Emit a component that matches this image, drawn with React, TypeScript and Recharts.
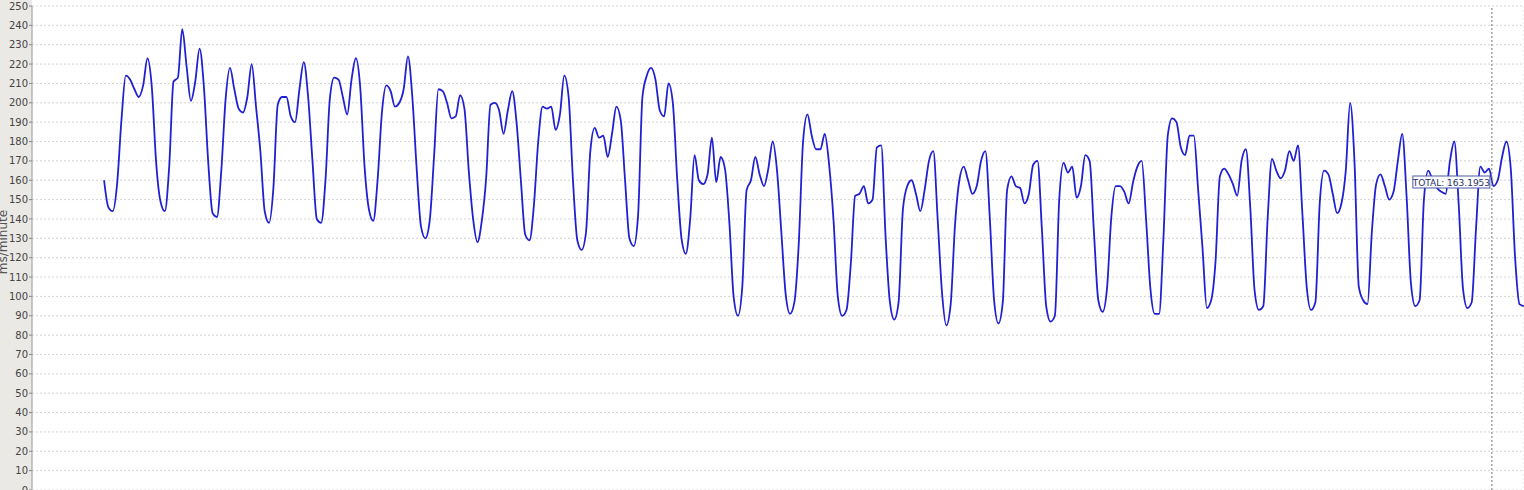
import React from 'react';
import { LineChart, Line, XAxis, YAxis, CartesianGrid, ReferenceLine, Label } from 'recharts';

// one reading every 2 hours, 12 per day, first one at midnight of day 0
const week1 = [
    160, 146, 144, 158, 191, 214, 212, 207, 203, 209, 223, 208,
    169, 149, 144, 167, 211, 213, 238, 219, 201, 211, 228, 208,
    169, 143, 141, 165, 202, 218, 207, 197, 195, 203, 220, 198,
    175, 144, 138, 156, 199, 203, 203, 193, 190, 207, 221, 203,
    170, 140, 138, 160, 202, 213, 212, 203, 194, 212, 223, 208,
    167, 145, 139, 160, 195, 209, 206, 198, 200, 207, 224, 203,
    166, 136, 130, 139, 172, 207, 206, 200, 192, 193, 204, 197,
];
const week2 = [
    165, 140, 128, 139, 161, 199, 200, 196, 184, 196, 206, 190,
    160, 132, 129, 147, 180, 198, 197, 198, 186, 194, 214, 203,
    160, 129, 124, 133, 175, 187, 182, 183, 172, 184, 198, 191,
    160, 130, 126, 142, 203, 214, 218, 212, 196, 193, 210, 200,
    161, 130, 122, 140, 173, 160, 158, 163, 182, 159, 172, 166,
    139, 100, 90, 105, 155, 160, 172, 163, 157, 166, 180, 165,
    133, 101, 91, 97, 127, 180, 194, 183, 176, 176, 184, 168,
];
const week3 = [
    140, 100, 90, 93, 117, 152, 153, 157, 148, 150, 177, 178,
    131, 97, 88, 97, 145, 157, 160, 153, 144, 155, 170, 175,
    140, 102, 85, 96, 137, 160, 167, 160, 153, 157, 170, 175,
    141, 98, 86, 97, 155, 162, 157, 156, 148, 153, 168, 170,
    135, 95, 87, 90, 150, 169, 164, 167, 151, 157, 173, 170,
    133, 98, 92, 104, 141, 157, 157, 154, 148, 159, 167, 170,
    140, 104, 91, 91, 130, 183, 192, 190, 177, 173, 183, 183,
];
const week4 = [
    155, 125, 94, 98, 118, 162, 166, 163, 158, 152, 170, 176,
    146, 103, 93, 95, 140, 171, 165, 161, 165, 175, 170, 178,
    143, 105, 93, 97, 148, 165, 163, 153, 143, 148, 165, 200,
    170, 105, 98, 96, 133, 158, 163, 157, 150, 154, 170, 184,
    152, 107, 95, 98, 150, 165, 160, 156, 154, 153, 170, 180,
    148, 104, 94, 97, 135, 167, 164, 166, 157, 160, 172, 180,
    166, 120, 96, 95,
];

const stepHours = 2;
const hourDomain = [-33.2, 654.1];
const dayTicks = [
    -24, 0, 24, 48, 72, 96, 120, 144, 168, 192, 216, 240, 264, 288, 312,
    336, 360, 384, 408, 432, 456, 480, 504, 528, 552, 576, 600, 624, 648,
];
const valueTicks = [
    0, 10, 20, 30, 40, 50, 60, 70, 80, 90, 100, 110, 120, 130, 140, 150,
    160, 170, 180, 190, 200, 210, 220, 230, 240, 250,
];
const cursorHour = 639.3;
const cursorText = 'TOTAL: 163.1953';

const totals = [...week1, ...week2, ...week3, ...week4];
const data = totals.map((v, i) => ({ hour: i * stepHours, total: v }));

const CursorLabel = (props: any) => {
    const { x, y } = props.viewBox;
    return (
        <g>
            <rect x={x - 79} y={y + 170} width={77} height={12} fill="#ffffff" fillOpacity={0.92} stroke="#4b5ba6" strokeWidth={1} />
            <text x={x - 40.5} y={y + 176.5} textAnchor="middle" dominantBaseline="central"
                fontSize={9} fontFamily="DejaVu Sans" fill="#2b3566">
                {cursorText}
            </text>
        </g>
    );
};

const AxisTitle = () => (
    <text x={3} y={242} transform="rotate(-90 3 242)" textAnchor="middle" dominantBaseline="central"
        fontSize={12} fontFamily="DejaVu Sans" fill="#555">
        ms/minute
    </text>
);

export default function App() {
    return (
        <div style={{
            position: 'absolute', left: 0, top: 0, width: 1524, height: 490,
            background: 'linear-gradient(to right, #eae9e5 0px, #eae9e5 32px, #ffffff 32px)',
        }}>
            <LineChart width={1524} height={490} data={data} margin={{ top: 6, right: 0, bottom: 0, left: 0 }}>
                <CartesianGrid horizontal={false} stroke="#e5e5e5" strokeDasharray="2 2" />
                <CartesianGrid vertical={false} stroke="#d4d4d4" strokeDasharray="2 2" />
                <XAxis dataKey="hour" type="number" domain={hourDomain} ticks={dayTicks} allowDataOverflow
                    height={0} tick={false} axisLine={false} tickLine={false} />
                <YAxis domain={[0, 250]} ticks={valueTicks} interval={0} width={32} allowDataOverflow
                    tick={{ fontSize: 10, fill: '#444', fontFamily: 'DejaVu Sans' }}
                    tickSize={3} tickMargin={1}
                    axisLine={{ stroke: '#9a9a9a' }} tickLine={{ stroke: '#888' }}>
                    <Label content={AxisTitle} />
                </YAxis>
                <Line type="monotone" dataKey="total" stroke="#2020d2" strokeWidth={1.8} dot={false} isAnimationActive={false} />
                <ReferenceLine x={cursorHour} stroke="#777" strokeDasharray="2 2" label={CursorLabel} />
            </LineChart>
        </div>
    );
}
